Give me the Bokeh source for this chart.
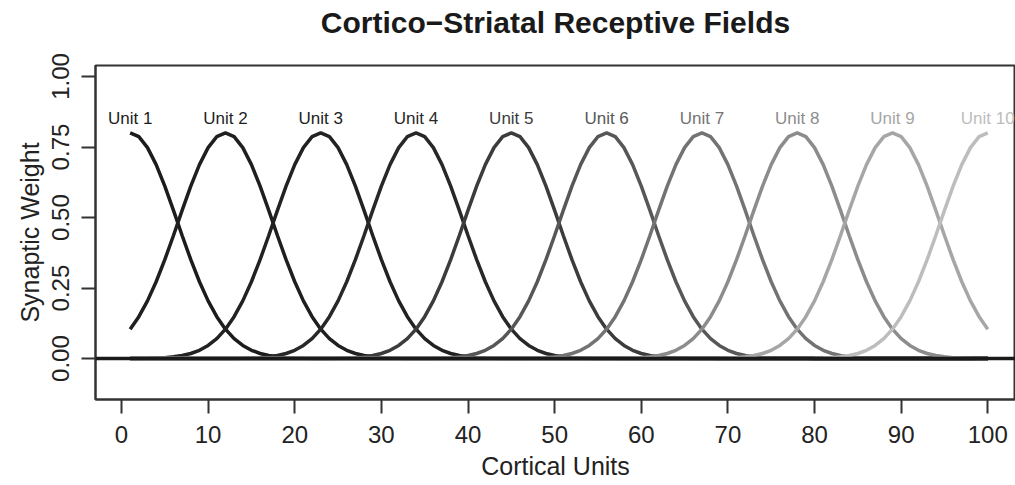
import numpy as np
from bokeh.plotting import figure
from bokeh.models import Range1d, Span, FixedTicker, ColumnDataSource, LinearAxis
from bokeh.embed import file_html
from bokeh.resources import INLINE

# ---- data ----
unit_labels = ["Unit 1", "Unit 2", "Unit 3", "Unit 4", "Unit 5",
               "Unit 6", "Unit 7", "Unit 8", "Unit 9", "Unit 10"]
unit_centers = [1, 12, 23, 34, 45, 56, 67, 78, 89, 100]
peak_weight = 0.8
field_sd = 5.45
cortical_units = list(range(1, 101))
label_y = 0.85
x_ticks = [0, 10, 20, 30, 40, 50, 60, 70, 80, 90, 100]
y_ticks = [0.0, 0.25, 0.5, 0.75, 1.0]
title_text = "Cortico\u2212Striatal Receptive Fields"

unit_colors = ["#1c1c1c", "#1f1f1f", "#222222", "#282828", "#3c3c3c",
               "#575757", "#737373", "#8c8c8c", "#a6a6a6", "#bdbdbd"]

FONT = "Liberation Sans"

p = figure(width=1015, height=485, output_backend="svg", toolbar_location=None,
           x_range=Range1d(-3.0, 103.2), y_range=Range1d(-0.145, 1.039),
           min_border_left=95, min_border_right=0, min_border_top=65,
           min_border_bottom=86)

p.background_fill_color = "white"
p.border_fill_color = "white"
p.outline_line_color = "#333333"
p.outline_line_width = 2
p.xgrid.visible = False
p.ygrid.visible = False

x = np.array(cortical_units, dtype=float)
for c, col in zip(unit_centers, unit_colors):
    y = peak_weight * np.exp(-(x - c) ** 2 / (2 * field_sd ** 2))
    p.line(x, y, line_color=col, line_width=3.5)

src = ColumnDataSource(dict(x=unit_centers, y=[label_y] * len(unit_centers),
                            t=unit_labels, c=unit_colors))
p.text(x="x", y="y", text="t", text_color="c", source=src,
       text_align="center", text_baseline="middle",
       text_font_size="17px", text_font={"value": FONT})

p.add_layout(Span(location=0, dimension="width", line_color="#1a1a1a",
                  line_width=3.5))

# axes
for ax in (p.xaxis[0], p.yaxis[0]):
    ax.axis_line_color = "#333333"
    ax.axis_line_width = 2
    ax.major_tick_line_color = "#333333"
    ax.major_tick_line_width = 2
    ax.major_tick_out = 14
    ax.major_tick_in = 0
    ax.minor_tick_line_color = None
    ax.major_label_text_font = FONT
    ax.major_label_text_font_size = "24px"
    ax.major_label_text_color = "#222222"
    ax.major_label_standoff = 12
    ax.axis_label_text_font = FONT
    ax.axis_label_text_font_size = "25px"
    ax.axis_label_text_font_style = "normal"
    ax.axis_label_text_color = "#222222"

p.xaxis.ticker = FixedTicker(ticks=x_ticks)
p.yaxis.ticker = FixedTicker(ticks=y_ticks)
p.xaxis.major_label_overrides = {t: str(t) for t in x_ticks}
p.yaxis.major_label_overrides = {0.0: "0.00", 0.25: "0.25", 0.5: "0.50",
                                 0.75: "0.75", 1.0: "1.00"}
p.yaxis.major_label_orientation = "vertical"
p.xaxis.axis_label = "Cortical Units"
p.yaxis.axis_label = "Synaptic Weight"
p.xaxis.axis_label_standoff = 6
p.yaxis.axis_label_standoff = 6

# title drawn as the label of a bare axis above the frame
top = LinearAxis(ticker=FixedTicker(ticks=[]), axis_label=title_text)
top.axis_line_color = None
top.major_tick_line_color = None
top.minor_tick_line_color = None
top.major_label_text_font_size = "0px"
top.major_tick_out = 0
top.major_tick_in = 0
top.major_label_standoff = 0
top.axis_label_standoff = 27
top.axis_label_text_font = FONT
top.axis_label_text_font_size = "30px"
top.axis_label_text_font_style = "bold"
top.axis_label_text_color = "#1a1a1a"
p.add_layout(top, "above")

open("out.html", "w").write(file_html(p, INLINE))
